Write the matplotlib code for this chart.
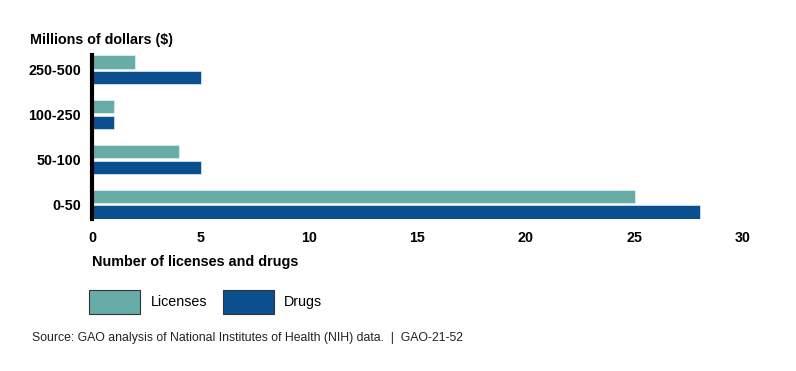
import matplotlib.pyplot as plt
import numpy as np

plt.rcParams['font.family'] = ['Liberation Sans', 'DejaVu Sans']

categories = ['0-50', '50-100', '100-250', '250-500']
licenses = [25, 4, 1, 2]
drugs = [28, 5, 1, 5]
x_ticks = [0, 5, 10, 15, 20, 25, 30]

lic_color = '#67aca7'
drug_color = '#0b4f8f'

fig = plt.figure(figsize=(7.96, 3.71), dpi=100)
ax = fig.add_axes([92 / 796, 1 - 219 / 371, (743 - 92) / 796, (219 - 55) / 371])

ind = np.arange(len(categories))
off = 0.175
h = 0.3
b1 = ax.barh(ind + off, licenses, h, color=lic_color, edgecolor='#d8eef0', linewidth=0.6, label='Licenses')
b2 = ax.barh(ind - off, drugs, h, color=drug_color, edgecolor='#cfe3f3', linewidth=0.6, label='Drugs')

ax.set_xlim(0, 30)
ax.set_ylim(-0.33, 3.33)
ax.set_yticks(ind)
ax.set_yticklabels(categories, fontsize=10.3, fontweight='bold')
ax.set_xticks(x_ticks)
ax.set_xticklabels([str(t) for t in x_ticks], fontsize=10.3, fontweight='bold')
ax.tick_params(axis='both', length=0)
ax.tick_params(axis='y', pad=8)
ax.tick_params(axis='x', pad=9)
for s in ['top', 'right', 'bottom']:
    ax.spines[s].set_visible(False)
ax.spines['left'].set_linewidth(3)
ax.spines['left'].set_color('black')

fig.text(30 / 796, 1 - 40 / 371, 'Millions of dollars ($)', fontsize=10.3, fontweight='bold', va='center')
fig.text(92 / 796, 1 - 262 / 371, 'Number of licenses and drugs', fontsize=10.4, fontweight='bold', va='center')
fig.text(32 / 796, 1 - 338 / 371, 'Source: GAO analysis of National Institutes of Health (NIH) data.  |  GAO-21-52',
         fontsize=8.85, va='center', color='#222222')

leg = fig.legend(handles=[b1, b2], loc='center left', bbox_to_anchor=(76 / 796, 1 - 302 / 371), ncol=2,
                 frameon=False, fontsize=10.3, handlelength=3.6, handleheight=2.3,
                 handletextpad=0.7, columnspacing=1.1)
for p in leg.get_patches():
    p.set_edgecolor('#333333')
    p.set_linewidth(0.8)

plt.savefig('out.png', dpi=100)
